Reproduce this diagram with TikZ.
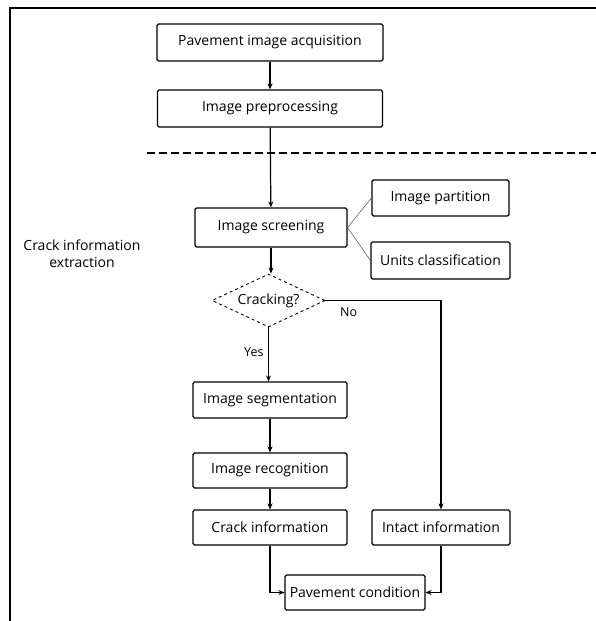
\documentclass[tikz,border=0pt]{standalone}
\usepackage{fontspec}
\setmainfont{Open Sans}
\usetikzlibrary{arrows.meta,shapes.geometric}
\begin{document}
\begin{tikzpicture}[x=1pt,y=-1pt,
  box/.style={draw, line width=1.1pt, rounded corners=1.5pt, inner sep=0pt,
    font=\fontsize{14}{16}\selectfont},
  flow/.style={line width=1.2pt, -{Stealth[length=6pt,width=5pt]}},
  link/.style={line width=0.5pt, draw=black!70},
  lbl/.style={font=\fontsize{14}{17}\selectfont},
  tag/.style={font=\fontsize{12.5}{14}\selectfont}]
\useasboundingbox (0,0) rectangle (596,621);
% outer frame (open at right and bottom)
\draw[line width=1.2pt] (596,8) -- (10,8) -- (10,621);
% separator
\draw[line width=1.2pt, dash pattern=on 8pt off 4pt] (147,153) -- (596,153);

% boxes
\node[box, minimum width=226pt, minimum height=37pt] (acq) at (270,42.5) {Pavement image acquisition};
\node[box, minimum width=225pt, minimum height=37pt] (pre) at (270,108.5) {Image preprocessing};
\node[box, minimum width=152pt, minimum height=39pt] (scr) at (271,227.5) {Image screening};
\node[box, minimum width=137pt, minimum height=36pt] (par) at (440.5,198) {Image partition};
\node[box, minimum width=139pt, minimum height=37pt] (uni) at (440.5,260.5) {Units classification};
\node[draw, dashed, line width=0.9pt, diamond, aspect=2.1, minimum width=113pt, minimum height=53pt,
  inner sep=0pt, font=\fontsize{14}{16}\selectfont] (crk) at (268.5,300.5) {Cracking?};
\node[box, minimum width=154pt, minimum height=36pt] (seg) at (270,400) {Image segmentation};
\node[box, minimum width=154pt, minimum height=35pt] (rec) at (270,470.5) {Image recognition};
\node[box, minimum width=154pt, minimum height=35pt] (cri) at (270,527.5) {Crack information};
\node[box, minimum width=138pt, minimum height=35pt] (int) at (441,527.5) {Intact information};
\node[box, minimum width=140pt, minimum height=35pt] (pav) at (355,592.5) {Pavement condition};

% side label
\node[lbl, align=center] (side) at (82,254) {Crack information\\extraction};

% main flow
\draw[flow] (acq) -- (pre);
\draw[flow] (pre) -- (scr);
\draw[flow] (scr) -- (crk.north -| scr);
\draw[link] (scr.east) -- (par.west);
\draw[link] (scr.east) -- (uni.west);
\draw[flow] (crk.south) -- (seg.north -| crk.south) node[tag, pos=0.45, left=1pt] (yes) {Yes};
\draw[flow] (seg) -- (rec);
\draw[flow] (rec) -- (cri);
\draw[flow] (crk.east) -| (int.north) node[tag, pos=0.1, below=3pt] (no) {No};
\draw[flow] (cri.south) |- (pav.west);
\draw[flow] (int.south) |- (pav.east);
\end{tikzpicture}
\end{document}
